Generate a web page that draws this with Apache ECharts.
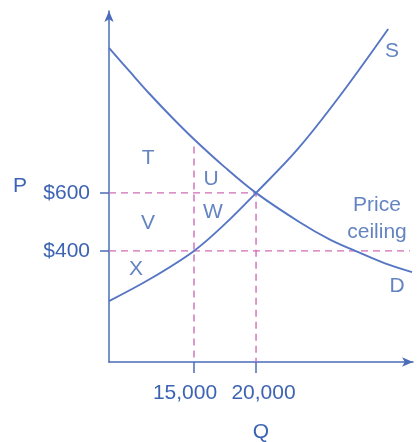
<!DOCTYPE html>
<html>
<head>
<meta charset="utf-8">
<script src="https://cdn.jsdelivr.net/npm/echarts/dist/echarts.min.js"></script>
<style>
html, body { margin: 0; padding: 0; background: #fff; }
#chart { width: 417px; height: 442px; }
</style>
</head>
<body>
<div id="chart"></div>
<script>
// price ceiling diagram, Q on x and P on y
const qTicks = [15000, 20000];
const pTicks = [400, 600];
const demand = [[8150, 1100], [9850, 1017], [11450, 940], [13230, 860], [15000, 785], [17500, 688], [20000, 600], [23550, 498], [25960, 439], [28000, 400], [30390, 357], [32570, 327]];
const supply = [[8150, 227], [11450, 303], [15000, 400], [17500, 493], [20000, 600], [23300, 748], [26750, 934], [30650, 1165]];
const ceilingLine = [[8150, 400], [32400, 400]];
const equilibriumLine = [[8150, 600], [20000, 600], [20000, 17]];
const ceilingQtyLine = [[15000, 760], [15000, 17]];
const areaLabels = [["T", 11300, 720], ["U", 16370, 648], ["W", 16530, 534], ["V", 11300, 496], ["X", 10330, 338]];
const curveLabels = [["S", 30960, 1089], ["D", 31360, 279], ["Price\nceiling", 29750, 512]];

const axisColor = "#4a6cb8";
const curveColor = "#5676c4";
const textColor = "#3c64b2";
const dashColor = "#d06cb4";
const font = "Liberation Sans, Arial, sans-serif";

const chart = echarts.init(document.getElementById("chart"), null, { renderer: "canvas" });

const dashed = (name, data) => ({
    name: name,
    type: "line",
    data: data,
    symbol: "none",
    silent: true,
    lineStyle: { color: dashColor, width: 1.4, type: [7, 5] },
});

const curve = (name, data) => ({
    name: name,
    type: "line",
    data: data,
    smooth: 0.35,
    symbol: "none",
    silent: true,
    lineStyle: { color: curveColor, width: 1.9 },
});

const labelSeries = (name, items) => ({
    name: name,
    type: "scatter",
    symbolSize: 1,
    silent: true,
    itemStyle: { color: "rgba(0,0,0,0)" },
    label: {
        show: true,
        position: "inside",
        formatter: "{b}",
        color: textColor,
        fontFamily: font,
        fontSize: 21,
        lineHeight: 27,
        align: "center",
    },
    data: items.map(d => ({ name: d[0], value: [d[1], d[2]] })),
});

chart.setOption({
    animation: false,
    grid: { left: 109, top: 11, width: 304, height: 351, outerBoundsMode: "none" },
    xAxis: {
        type: "value",
        min: 8150,
        max: 32650,
        splitLine: { show: false },
        axisLine: {
            lineStyle: { color: axisColor, width: 1.5 },
            symbol: ["none", "arrow"],
            symbolSize: [7, 11],
        },
        axisTick: { customValues: qTicks, length: 11, lineStyle: { color: axisColor, width: 1.5 } },
        axisLabel: {
            customValues: qTicks,
            margin: 21,
            formatter: v => v === 15000 ? "{l|15,000}" : "{r|20,000}",
            rich: {
                l: { padding: [0, 18, 0, 0], color: textColor, fontFamily: font, fontSize: 21 },
                r: { padding: [0, 0, 0, 15], color: textColor, fontFamily: font, fontSize: 21 },
            },
        },
        name: "Q",
        nameLocation: "middle",
        nameGap: 60,
        nameTextStyle: { color: textColor, fontFamily: font, fontSize: 21 },
    },
    yAxis: {
        type: "value",
        min: 17,
        max: 1227,
        splitLine: { show: false },
        axisLine: {
            show: true,
            lineStyle: { color: axisColor, width: 1.5 },
            symbol: ["none", "arrow"],
            symbolSize: [7, 11],
        },
        axisTick: { show: true, customValues: pTicks, length: 9, lineStyle: { color: axisColor, width: 1.5 } },
        axisLabel: {
            customValues: pTicks,
            margin: 19,
            formatter: v => "$" + v,
            color: textColor,
            fontFamily: font,
            fontSize: 21,
        },
        name: "P",
        nameLocation: "middle",
        nameRotate: 0,
        nameGap: 82,
        nameTextStyle: { color: textColor, fontFamily: font, fontSize: 21, padding: [0, 0, 7, 0] },
    },
    series: [
        dashed("ceiling", ceilingLine),
        dashed("equilibrium", equilibriumLine),
        dashed("ceilingQty", ceilingQtyLine),
        curve("D", demand),
        curve("S", supply),
        labelSeries("areas", areaLabels),
        labelSeries("curves", curveLabels),
    ],
});
</script>
</body>
</html>
